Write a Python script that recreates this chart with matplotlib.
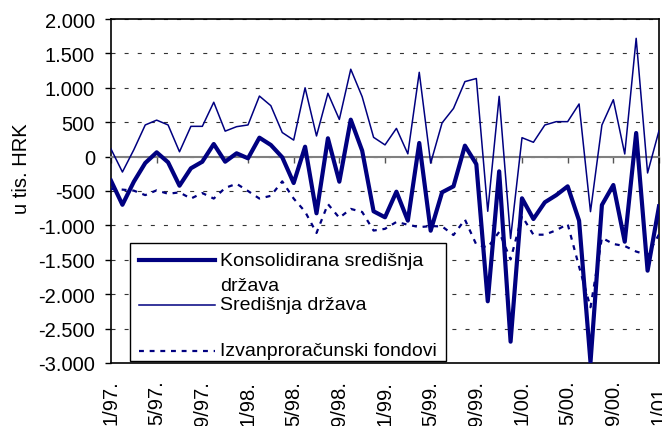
import numpy as np
import matplotlib
matplotlib.use("Agg")
import matplotlib.pyplot as plt
from matplotlib.lines import Line2D
from matplotlib.patches import Rectangle

plt.rcParams["font.family"] = ["Liberation Sans", "DejaVu Sans"]

# Monthly balances, 1/97 - 1/01 (thousand HRK)
konsolidirana = [-350, -700, -365, -93, 62, -83, -423, -170, -74, 183,
                 -74, 48, -25, 275, 169, -10, -384, 144, -824, 266,
                 -365, 537, 86, -795, -882, -510, -931, 198, -1077, -519,
                 -432, 159, -110, -2103, -214, -2690, -606, -907, -664, -560,
                 -432, -931, -2990, -703, -413, -1237, 343, -1658, -723]
sredisnja = [110, -224, 100, 460, 530, 460, 70, 440, 440, 790,
             370, 435, 460, 880, 740, 350, 240, 1000, 300, 920,
             540, 1270, 870, 280, 170, 410, 40, 1225, -95, 490,
             700, 1090, 1135, -795, 876, -1190, 275, 208, 459, 508,
             508, 765, -800, 459, 827, 38, 1719, -238, 377]
izvanproracunski = [-470, -480, -495, -560, -490, -540, -520, -610, -530, -610,
                    -455, -395, -500, -610, -570, -360, -610, -800, -1110, -690,
                    -890, -760, -805, -1075, -1050, -950, -990, -1025, -1010, -1015,
                    -1140, -915, -1280, -1320, -1095, -1495, -865, -1135, -1135, -1070,
                    -980, -1600, -2190, -1180, -1270, -1300, -1380, -1430, -1130]

x_labels = ["1/97.", "5/97.", "9/97.", "1/98.", "5/98.", "9/98.", "1/99.",
            "5/99.", "9/99.", "1/00.", "5/00.", "9/00.", "1/01."]
y_ticks = [2000, 1500, 1000, 500, 0, -500, -1000, -1500, -2000, -2500, -3000]
y_labels = ["2.000", "1.500", "1.000", "500", "0", "-500", "-1.000",
            "-1.500", "-2.000", "-2.500", "-3.000"]

navy = "#000080"
months = np.arange(len(konsolidirana))

fig = plt.figure(figsize=(6.62, 4.27), dpi=100)
ax = fig.add_axes([111 / 662, 1 - 364 / 427, 548 / 662, 344 / 427])

ax.plot(months, sredisnja, color=navy, linewidth=1.1, zorder=3)
ax.plot(months, izvanproracunski, color=navy, linewidth=1.6,
        linestyle=(0, (2.2, 2.6)), zorder=3)
ax.plot(months, konsolidirana, color=navy, linewidth=3, zorder=4)

ax.set_xlim(0, len(months) - 1)
ax.set_ylim(-3000, 2000)

# y axis
ax.set_yticks(y_ticks)
ax.set_yticklabels(y_labels, fontsize=14.5)
ax.tick_params(axis="y", direction="out", length=4, width=1, pad=7.5)
ax.yaxis.grid(True, color="#333333", linewidth=0.8, linestyle=(0, (3.6, 8.2)))

# category axis crosses at zero
ax.spines["bottom"].set_position(("data", 0))
ax.spines["bottom"].set_color("#808080")
ax.spines["bottom"].set_linewidth(1.5)
tick_pos = months[::4]
ax.set_xticks(tick_pos)
ax.tick_params(axis="x", direction="out", length=4.5, width=1,
               color="#555555", labelbottom=False)

# labels along the bottom edge
sec = ax.secondary_xaxis("bottom")
sec.set_xticks(tick_pos)
sec.set_xticklabels(x_labels, rotation=90, fontsize=14.5, va="top")
sec.tick_params(length=0, pad=12)
sec.spines["bottom"].set_color("black")
sec.spines["bottom"].set_linewidth(1.2)

for side in ["top", "left", "right"]:
    ax.spines[side].set_color("black")
    ax.spines[side].set_linewidth(1.2)

fig.text(22 / 662, 1 - 169 / 427, "u tis. HRK", rotation=90,
         ha="center", va="center", fontsize=14.5)

# legend box
def fx(px):
    return px / 662


def fy(py):
    return 1 - py / 427


fig.patches.append(Rectangle((fx(130), fy(362)), fx(446) - fx(130),
                             fy(244) - fy(362), transform=fig.transFigure,
                             facecolor="white", edgecolor="black",
                             linewidth=1.0, zorder=5))
handles = [
    (260.7, dict(linewidth=3)),
    (306, dict(linewidth=1.1)),
    (351.7, dict(linewidth=1.6, linestyle=(0, (2.2, 2.6)))),
]
for py, style in handles:
    fig.lines.append(Line2D([fx(139), fx(215)], [fy(py), fy(py)],
                            transform=fig.transFigure, color=navy,
                            zorder=6, **style))

legend_texts = [
    (266, "Konsolidirana središnja"),
    (291.5, "država"),
    (310, "Središnja država"),
    (356, "Izvanproračunski fondovi"),
]
for py, txt in legend_texts:
    fig.text(fx(220), fy(py), txt, ha="left", va="baseline",
             fontsize=14, zorder=7)

fig.savefig("out.png", dpi=100)
